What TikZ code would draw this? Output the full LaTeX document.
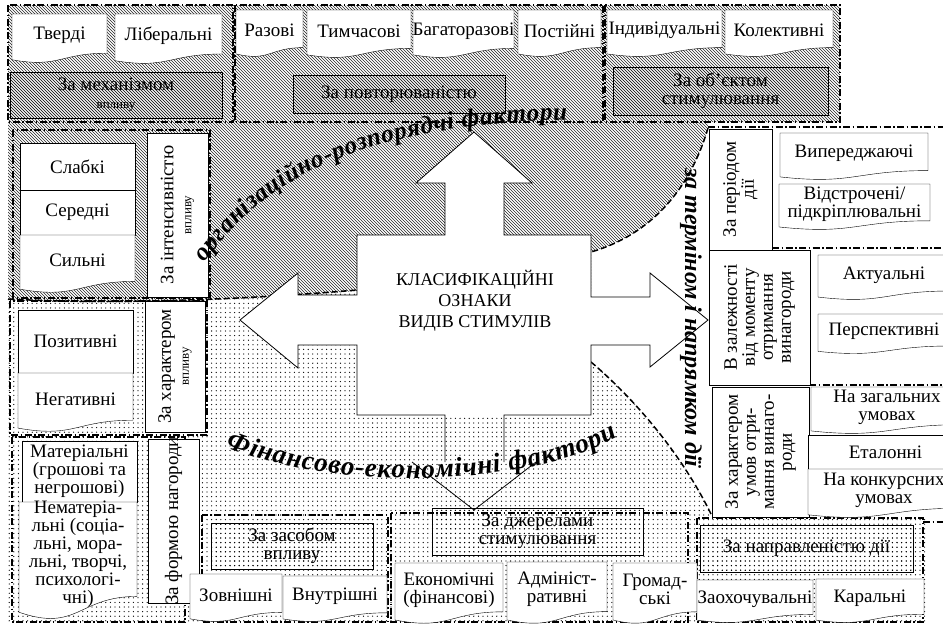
\documentclass[tikz,border=0pt]{standalone}
\usepackage{fontspec}
\setmainfont{Liberation Serif}
\usetikzlibrary{patterns,decorations.text}

\pgfdeclarepatternformonly{sparse dots}{\pgfqpoint{-1pt}{-1pt}}{\pgfqpoint{1pt}{1pt}}{\pgfqpoint{4.6pt}{4.6pt}}%
  {\pgfpathcircle{\pgfqpoint{0pt}{0pt}}{0.65pt}\pgfusepath{fill}}

\begin{document}
\begin{tikzpicture}[x=1pt,y=-1pt,
    lbl/.style={font=\fontsize{19}{18}\selectfont,align=center,inner sep=0pt},
    frame/.style={line width=1.3pt,dash pattern=on 7pt off 2.5pt on 1.5pt off 2.5pt},
    border/.style={line width=1.5pt,dash pattern=on 6pt off 3pt},
    hatch/.style={pattern=north west lines,pattern color=black!85},
    dotty/.style={pattern=sparse dots,pattern color=black},
    wordart/.style={font=\fontsize{24}{24}\selectfont\bfseries\itshape}]
  \useasboundingbox (0,0) rectangle (943,630);
  \def\wordFont{\bfseries\itshape}
  \def\cut#1{{\fontsize{13}{13}\selectfont #1}}

% define docBox (#name, #x1, #y1, #x2, #y2, #text) -- box with wavy bottom
  \def\docBox(#1,#2,#3,#4,#5,#6){
    \pgfmathsetmacro\boxH{#5-#3}
    \draw[fill=white] (#2,#3) -- (#4,#3) -- (#4,{#5-0.2*\boxH})
      .. controls ({(#2+#4)/2},{#5-0.2*\boxH}) and ({(#2+#4)/2},{#5+0.107*\boxH}) .. (#2,{#5-0.066*\boxH}) -- cycle;
    \node[lbl] (#1) at ({(#2+#4)/2},{#3+0.44*\boxH}) {#6};}
% define plainBox (#name, #look, #x1, #y1, #x2, #y2, #text)
  \def\plainBox(#1,#2,#3,#4,#5,#6,#7){
    \draw[#2] (#3,#4) rectangle (#5,#6);
    \node[lbl] (#1) at ({(#3+#5)/2},{(#4+#6)/2}) {#7};}
% define turnBox (#name, #look, #x1, #y1, #x2, #y2, #text) -- text read upwards
  \def\turnBox(#1,#2,#3,#4,#5,#6,#7){
    \draw[#2] (#3,#4) rectangle (#5,#6);
    \node[lbl,rotate=90] (#1) at ({(#3+#5)/2},{(#4+#6)/2}) {#7};}

  % shaded areas
  \fill[dotty] (8,300) .. controls (120,306) and (250,300) .. (357,291) -- (591,291) -- (591,362)
    .. controls (630,395) and (680,450) .. (712,516) -- (925,516) -- (925,622) -- (8,622) -- cycle;
  \fill[hatch] (8,5) -- (840,5) -- (840,122) -- (708,122) -- (708,128)
    .. controls (690,190) and (650,235) .. (591,252) -- (591,291) -- (357,291)
    .. controls (250,300) and (120,306) .. (8,300) -- cycle;
  \draw[border] (8,299) .. controls (120,305) and (250,299) .. (357,290);
  \draw[border] (708,128) .. controls (690,190) and (650,235) .. (591,252);
  \draw[border] (591,362) .. controls (630,395) and (680,450) .. (712,516);

  % big cross arrow
  \fill[white] (474,132) -- (532,183) -- (504,183) -- (504,235) -- (591,235) -- (591,297)
    -- (650,297) -- (650,273) -- (708,320) -- (650,367) -- (650,345) -- (591,345)
    -- (591,415) -- (357,415) -- (357,345) -- (298,345) -- (298,368) -- (240,320)
    -- (298,273) -- (298,295) -- (357,295) -- (357,235) -- (445,235) -- (445,183)
    -- (416,183) -- cycle;
  \draw[line width=0.8pt] (445,462) -- (445,415) -- (357,415) -- (357,345) -- (298,345)
    -- (298,368) -- (240,320) -- (298,273) -- (298,295) -- (357,295) -- (357,235)
    -- (445,235) -- (445,183) -- (416,183) -- (474,132) -- (532,183) -- (504,183)
    -- (504,235) -- (591,235) -- (591,297) -- (650,297) -- (650,273) -- (708,320)
    -- (650,367) -- (650,345) -- (591,345) -- (591,415) -- (504,415) -- (504,462);
  \draw[line width=0.8pt] (412,462) -- (474,510) -- (536,462);
  \node[font=\fontsize{18}{21}\selectfont,align=center] (signs) at (475,301)
    {КЛАСИФІКАЦІЙНІ\\ОЗНАКИ\\ВИДІВ СТИМУЛІВ};

  % group frames
  \draw[frame] (8,5) rectangle (233,122);
  \draw[frame] (235,5) rectangle (603,122);
  \draw[frame] (605,5) rectangle (840,122);
  \draw[frame] (13,130) rectangle (210,298);
  \draw[frame] (10,301) rectangle (207,435);
  \draw[frame] (12,437) rectangle (185,622);
  \draw[frame] (202,515) rectangle (388,622);
  \draw[frame] (391,513) rectangle (688,622);
  \draw[frame] (697,518) rectangle (923,622);
  \draw[frame] (708,127) -- (943,127);
  \draw[frame] (772,248) -- (943,248);
  \draw[frame] (809,385) -- (943,385);
  \draw[frame] (923,522) -- (943,522);

  % top row
  \docBox(tverdi,12,14,107,63,Тверді)
  \docBox(liberal,115,14,222,64,Ліберальні)
  \plainBox(mechanism,hatch,10,72,222,118,За механізмом\\\cut{впливу})
  \docBox(razovi,236,10,303,57,Разові)
  \docBox(tymchasovi,307,10,411,58,Тимчасові)
  \docBox(bagato,413,10,514,58,Багаторазові)
  \docBox(postiyni,518,10,601,57,Постійні)
  \plainBox(repeat,hatch,293,75,505,113,За повторюваністю)
  \docBox(indyv,607,10,722,57,Індивідуальні)
  \docBox(kolekt,725,10,833,57,Колективні)
  \plainBox(object,hatch,613,67,828,115,За об’єктом\\стимулювання)

  % left column
  \plainBox(slabki,fill=white,20,143,135,190,Слабкі)
  \plainBox(seredni,fill=white,20,190,135,235,Середні)
  \docBox(sylni,20,235,135,293,Сильні)
  \turnBox(intensity,fill=white,147,133,208,297,За інтенсивністю\\\cut{впливу})
  \plainBox(pozyt,fill=white,18,310,133,373,Позитивні)
  \docBox(negat,18,373,133,432,Негативні)
  \turnBox(character,fill=white,145,301,205,432,За характером\\\cut{впливу})
  \plainBox(mater,fill=white,22,441,137,502,{Матеріальні\\(грошові та\\негрошові)})
  \docBox(nemater,19,502,137,620,{Нематеріа-\\льні (соціа-\\льні, мора-\\льні, творчі,\\психологі-\\чні)})
  \turnBox(form,fill=white,148,439,199,603,За формою нагороди)

  % bottom row
  \plainBox(means,dotty,211,523,373,569,За засобом\\впливу)
  \docBox(zovn,190,574,282,622,Зовнішні)
  \docBox(vnutr,283,576,387,622,Внутрішні)
  \plainBox(sources,dotty,432,508,643,555,За джерелами\\стимулювання)
  \docBox(ekon,395,563,503,624,{Економічні\\(фінансові)})
  \docBox(admin,507,562,607,624,Адмініст-\\ративні)
  \docBox(hromad,613,563,697,624,Громад-\\ські)

  % right column
  \turnBox(period,fill=white,709,129,772,250,За періодом\\дії)
  \docBox(vyper,780,133,928,180,Випереджаючі)
  \docBox(vidstr,779,184,930,230,Відстрочені/\\підкріплювальні)
  \turnBox(moment,fill=white,709,250,810,385,В залежності\\від моменту\\отримання\\винагороди)
  \docBox(aktual,818,255,950,300,Актуальні)
  \docBox(persp,818,314,950,354,Перспективні)
  \turnBox(terms,fill=white,712,387,809,517,За характером\\умов отри-\\мання винаго-\\роди)
  \docBox(zahal,811,387,963,434,На загальних\\умовах)
  \plainBox(etal,fill=white,808,435,963,469,Еталонні)
  \docBox(konk,808,469,960,518,На конкурсних\\умовах)
  \plainBox(direction,dotty,700,525,913,572,За направленістю дії)
  \docBox(zaokh,697,580,813,623,Заохочувальні)
  \docBox(karal,816,579,924,623,Каральні)

  % curved titles
  \path[decorate,decoration={text along path,text align=fit to path,
      text={|\fontsize{25}{25}\selectfont\wordFont|організаційно-розпорядчі фактори}}]
    (205,263) .. controls (272,165) and (390,124) .. (567,120);
  \path[decorate,decoration={text along path,text align=fit to path,
      text={|\fontsize{27}{27}\selectfont\wordFont|Фінансово-економічні фактори}}]
    (226,447) .. controls (330,490) and (520,490) .. (618,437);
  \node[wordart,rotate=-90] (termdir) at (691,318) {за терміном і напрямком дії};
\end{tikzpicture}
\end{document}
